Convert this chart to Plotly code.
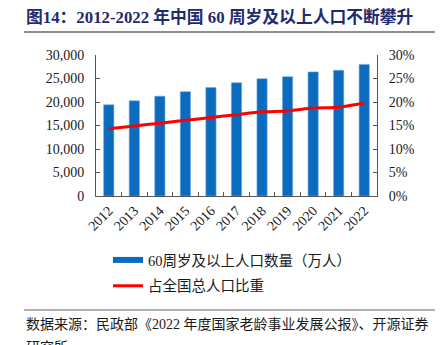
import plotly.graph_objects as go

years = ["2012", "2013", "2014", "2015", "2016", "2017", "2018", "2019", "2020", "2021", "2022"]
elderly_pop = [19390, 20243, 21242, 22200, 23086, 24090, 24949, 25388, 26402, 26736, 28004]
share_pct = [0.143, 0.149, 0.155, 0.161, 0.167, 0.173, 0.179, 0.181, 0.187, 0.189, 0.198]

bar_name = "60周岁及以上人口数量（万人）"
line_name = "占全国总人口比重"
title_text = "图14：2012-2022 年中国 60 周岁及以上人口不断攀升"
source_text = "数据来源：民政部《2022 年度国家老龄事业发展公报》、开源证券"
source_text2 = "研究所"

W, H = 447, 345
L, R, T, B = 96, 70, 55, 149
PW, PH = W - L - R, H - T - B

def px(x):
    return (x - L) / PW

def py(y):
    return (H - B - y) / PH

BLUE = "#0A6BBF"
RED = "#FF0000"
FONT = "Liberation Serif, Noto Sans CJK SC"

fig = go.Figure()
fig.add_trace(go.Bar(
    x=years, y=elderly_pop, name=bar_name, marker=dict(color=BLUE, line=dict(color="#6FA8DC", width=0.6)),
    showlegend=False, yaxis="y",
))
fig.add_trace(go.Scatter(
    x=[None], y=[None], mode="lines", name=bar_name, line=dict(color=BLUE, width=6),
    legendgroup="a", showlegend=True,
))
fig.add_trace(go.Scatter(
    x=years, y=share_pct, mode="lines", name=line_name, yaxis="y2",
    line=dict(color=RED, width=3, shape="spline", smoothing=0.5), legendgroup="b",
))

axis_col = "#555555"
fig.update_layout(
    width=W, height=H,
    margin=dict(l=L, r=R, t=T, b=B, pad=0),
    paper_bgcolor="white", plot_bgcolor="white",
    bargap=0.6,
    font=dict(family=FONT, size=14, color="#1a1a1a"),
    xaxis=dict(
        type="category", tickangle=-45, showline=True, linecolor=axis_col, linewidth=1,
        ticks="inside", ticklen=4, tickcolor=axis_col, tickson="boundaries",
        showgrid=False, tickfont=dict(size=14, family=FONT),
    ),
    yaxis=dict(
        range=[0, 30000], dtick=5000, tickformat=",", showline=True, linecolor=axis_col, linewidth=1,
        ticks="inside", ticklen=4, tickcolor=axis_col, showgrid=False, zeroline=False,
        tickfont=dict(size=14, family=FONT), ticklabelstandoff=8,
    ),
    yaxis2=dict(
        range=[0, 0.30], dtick=0.05, tickformat=".0%", overlaying="y", side="right",
        showline=True, linecolor=axis_col, linewidth=1, ticks="inside", ticklen=4, tickcolor=axis_col,
        showgrid=False, zeroline=False, tickfont=dict(size=14, family=FONT), ticklabelstandoff=8,
    ),
    legend=dict(
        x=px(108), y=py(244), xanchor="left", yanchor="top", orientation="v",
        font=dict(size=14.5, family=FONT), tracegroupgap=4, bgcolor="rgba(0,0,0,0)",
    ),
    annotations=[
        dict(text="<b>" + title_text + "</b>", x=px(24), y=py(17), xref="paper", yref="paper",
             xanchor="left", yanchor="middle", showarrow=False,
             font=dict(size=16.8, family=FONT, color="#1F2B6E")),
        dict(text=source_text, x=px(24), y=py(324), xref="paper", yref="paper",
             xanchor="left", yanchor="middle", showarrow=False,
             font=dict(size=14, family=FONT, color="#1a1a1a")),
        dict(text=source_text2, x=px(24), y=py(347), xref="paper", yref="paper",
             xanchor="left", yanchor="middle", showarrow=False,
             font=dict(size=14, family=FONT, color="#1a1a1a")),
    ],
    shapes=[
        dict(type="line", xref="paper", yref="paper", x0=px(24), x1=px(435), y0=py(32), y1=py(32),
             line=dict(color="#222222", width=1.2)),
        dict(type="line", xref="paper", yref="paper", x0=px(24), x1=px(435), y0=py(310), y1=py(310),
             line=dict(color="#666666", width=1.2)),
    ],
)

fig.write_html("out.html")
